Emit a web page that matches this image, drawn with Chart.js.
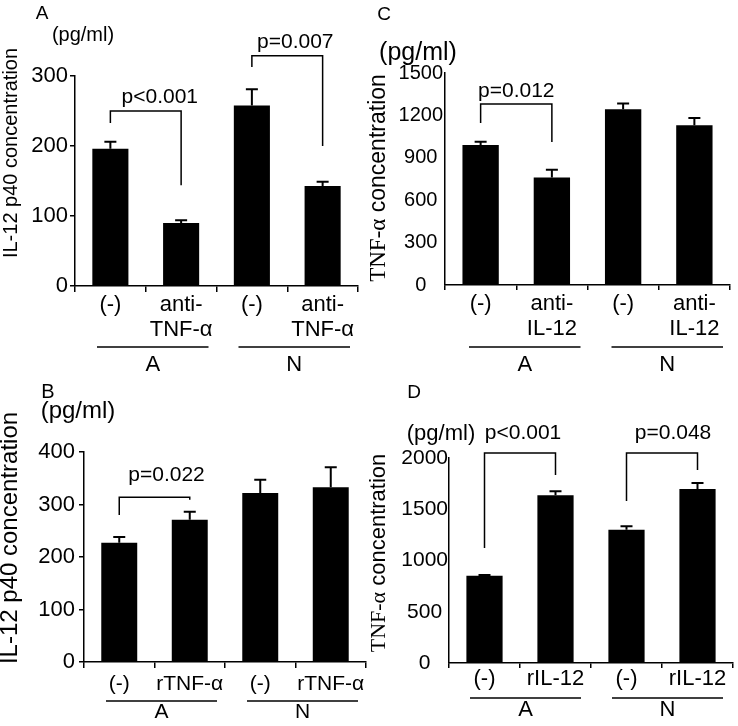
<!DOCTYPE html>
<html lang="en">
<head>
<meta charset="UTF-8">
<title>IL-12 p40 and TNF-α concentration</title>
<script src="https://cdn.jsdelivr.net/npm/chart.js"></script>
<style>
  body { margin: 0; background: #fff; }
  .wrap { position: relative; width: 738px; height: 726px; }
  canvas { position: absolute; left: 0; top: 0; }
</style>
</head>
<body>
<div class="wrap">
  <canvas id="chartA" width="738" height="726"></canvas>
  <canvas id="chartC" width="738" height="726"></canvas>
  <canvas id="chartB" width="738" height="726"></canvas>
  <canvas id="chartD" width="738" height="726"></canvas>
</div>
<script>
  // data (pg/ml)
  const groups = ['A', 'N'];

  const labelsA = [['(-)'], ['anti-', 'TNF-α'], ['(-)'], ['anti-', 'TNF-α']];
  const valuesA = [196, 90, 258, 143];
  const errorsA = [10, 4, 23, 6];
  const bracketsA = [
    { from: 0, to: 1, left: 233, right: 144, top: 250, text: 'p<0.001' },
    { from: 2, to: 3, left: 313, right: 200, top: 329, text: 'p=0.007' }
  ];

  const labelsC = [['(-)'], ['anti-', 'IL-12'], ['(-)'], ['anti-', 'IL-12']];
  const valuesC = [990, 760, 1244, 1131];
  const errorsC = [24, 55, 40, 50];
  const bracketsC = [
    { from: 0, to: 1, left: 1146, right: 1012, top: 1281, text: 'p=0.012' }
  ];

  const labelsB = ['(-)', 'rTNF-α', '(-)', 'rTNF-α'];
  const valuesB = [227, 271, 322, 333];
  const errorsB = [11, 15, 25, 38];
  const bracketsB = [
    { from: 0, to: 1, left: 280, right: 309, top: 314, text: 'p=0.022' }
  ];

  const labelsD = ['(-)', 'rIL-12', '(-)', 'rIL-12'];
  const valuesD = [852, 1636, 1300, 1698];
  const errorsD = [6, 39, 33, 58];
  const bracketsD = [
    { from: 0, to: 1, left: 1122, right: 1834, top: 2049, text: 'p<0.001' },
    { from: 2, to: 3, left: 1580, right: 1883, top: 2049, text: 'p=0.048' }
  ];

  const SANS = "'Liberation Sans', Arial, Helvetica, sans-serif";
  const SERIF = "'Liberation Serif', 'Times New Roman', serif";
  const IL12 = [['IL-12 p40 concentration', SANS]];
  const TNF = [['TNF-α', SERIF], [' concentration', SANS]];

  // extra drawing: error bars, brackets, group lines, titles
  function makeDecor(errors, brackets, s) {
    return {
      id: 'decor',
      afterDraw(chart) {
        const ctx = chart.ctx;
        const x = chart.scales.x, y = chart.scales.y;
        const vals = chart.data.datasets[0].data;
        ctx.save();
        ctx.fillStyle = '#000';
        ctx.strokeStyle = '#000';

        ctx.lineWidth = 2;
        chart.getDatasetMeta(0).data.forEach((bar, i) => {
          const top = y.getPixelForValue(vals[i] + errors[i]);
          ctx.beginPath();
          ctx.moveTo(bar.x, bar.y);
          ctx.lineTo(bar.x, top);
          ctx.moveTo(bar.x - 6, top);
          ctx.lineTo(bar.x + 6, top);
          ctx.stroke();
        });

        ctx.lineWidth = 1.5;
        ctx.font = s.pSize + 'px ' + SANS;
        ctx.textAlign = 'center';
        ctx.textBaseline = 'alphabetic';
        brackets.forEach((b, k) => {
          const x1 = x.getPixelForValue(b.from), x2 = x.getPixelForValue(b.to);
          const yt = y.getPixelForValue(b.top);
          ctx.beginPath();
          ctx.moveTo(x1, y.getPixelForValue(b.left));
          ctx.lineTo(x1, yt);
          ctx.lineTo(x2, yt);
          ctx.lineTo(x2, y.getPixelForValue(b.right));
          ctx.stroke();
          ctx.fillText(b.text, (x1 + x2) / 2 + s.pDx[k], yt - s.pGap);
        });

        const cw = x.getPixelForValue(1) - x.getPixelForValue(0);
        ctx.font = s.xFont + 'px ' + SANS;
        ctx.textBaseline = 'middle';
        groups.forEach((g, k) => {
          const a = x.getPixelForValue(2 * k) - cw / 2 + s.groupInset[0];
          const b = x.getPixelForValue(2 * k + 1) + cw / 2 - s.groupInset[1];
          ctx.beginPath();
          ctx.moveTo(a, s.groupY);
          ctx.lineTo(b, s.groupY);
          ctx.stroke();
          ctx.fillText(g, (a + b) / 2, s.groupTextY);
        });

        ctx.font = s.letter[3] + 'px ' + SANS;
        ctx.fillText(s.letter[0], s.letter[1], s.letter[2]);

        ctx.textBaseline = 'alphabetic';
        ctx.font = s.unit[2] + 'px ' + SANS;
        ctx.fillText('(pg/ml)', s.unit[0], s.unit[1]);

        // rotated axis title, may mix fonts
        ctx.translate(s.titleX, s.titleY);
        ctx.rotate(-Math.PI / 2);
        ctx.textAlign = 'left';
        ctx.textBaseline = 'middle';
        let total = 0;
        s.title.forEach(seg => {
          ctx.font = s.titleSize + 'px ' + seg[1];
          total += ctx.measureText(seg[0]).width;
        });
        let pos = -total / 2;
        s.title.forEach(seg => {
          ctx.font = s.titleSize + 'px ' + seg[1];
          ctx.fillText(seg[0], pos, 0);
          pos += ctx.measureText(seg[0]).width;
        });
        ctx.restore();
      }
    };
  }

  function makePanel(id, labels, values, errors, brackets, s) {
    const [left, right, top, bottom] = s.area;
    return new Chart(document.getElementById(id), {
      type: 'bar',
      data: {
        labels: labels,
        datasets: [{
          data: values,
          backgroundColor: '#000',
          borderWidth: 0,
          barPercentage: 0.51,
          categoryPercentage: 1
        }]
      },
      options: {
        responsive: false,
        animation: false,
        events: [],
        layout: { padding: { left: left - 60, right: 738 - right, top: top, bottom: 726 - bottom - 60 } },
        plugins: { legend: { display: false }, tooltip: { enabled: false } },
        scales: {
          x: {
            border: { color: '#000', width: 1.5 },
            grid: { drawOnChartArea: false, tickLength: s.xTick, color: '#000', lineWidth: 1.5 },
            ticks: {
              color: '#000', autoSkip: false, maxRotation: 0, padding: s.xPad,
              font: { family: SANS, size: s.xFont, lineHeight: 1.15 }
            },
            afterFit: sc => { sc.height = 60; }
          },
          y: {
            min: 0,
            max: s.yMax,
            border: { color: '#000', width: 1.5 },
            grid: { drawOnChartArea: false, drawTicks: s.yTick > 0, tickLength: s.yTick, color: '#000', lineWidth: 1.5 },
            ticks: {
              stepSize: s.yStep, color: '#000', padding: s.yPad, crossAlign: s.yAlign,
              font: { family: SANS, size: s.yFont },
              callback: v => String(v)
            },
            afterFit: sc => { sc.width = 60; }
          }
        }
      },
      plugins: [makeDecor(errors, brackets, s)]
    });
  }

  makePanel('chartA', labelsA, valuesA, errorsA, bracketsA, {
    area: [75, 358, 76, 286], yMax: 300, yStep: 100, yFont: 22, yTick: 5, yPad: 2, yAlign: 'near',
    xFont: 22, xTick: 6, xPad: 0,
    letter: ['A', 42, 14, 19], unit: [83, 41, 20],
    title: IL12, titleX: 11, titleY: 153, titleSize: 20,
    groupY: 347, groupTextY: 365, groupInset: [22, 8],
    pSize: 21, pGap: 8, pDx: [14, 8]
  });

  makePanel('chartC', labelsC, valuesC, errorsC, bracketsC, {
    area: [445, 730, 73, 285], yMax: 1500, yStep: 300, yFont: 20, yTick: 0, yPad: 2, yAlign: 'center',
    xFont: 22, xTick: 5, xPad: 1,
    letter: ['C', 384, 15, 19], unit: [418, 60, 25],
    title: TNF, titleX: 379, titleY: 178, titleSize: 23,
    groupY: 347, groupTextY: 365, groupInset: [24, 7],
    pSize: 21, pGap: 7, pDx: [0]
  });

  makePanel('chartB', labelsB, valuesB, errorsB, bracketsB, {
    area: [84, 366, 452, 662], yMax: 400, yStep: 100, yFont: 22, yTick: 5, yPad: 4, yAlign: 'near',
    xFont: 21, xTick: 6, xPad: 4,
    letter: ['B', 48, 392, 20], unit: [78, 418, 24],
    title: IL12, titleX: 10, titleY: 538, titleSize: 24,
    groupY: 701, groupTextY: 712, groupInset: [22, 8],
    pSize: 21, pGap: 16, pDx: [12]
  });

  makePanel('chartD', labelsD, valuesD, errorsD, bracketsD, {
    area: [449, 733, 458, 663], yMax: 2000, yStep: 500, yFont: 21, yTick: 0, yPad: 1, yAlign: 'center',
    xFont: 22, xTick: 5, xPad: -2,
    letter: ['D', 414, 393, 19], unit: [441, 440, 22],
    title: TNF, titleX: 379, titleY: 553, titleSize: 22,
    groupY: 698, groupTextY: 710, groupInset: [21, 10],
    pSize: 21, pGap: 14, pDx: [3, 11]
  });
</script>
</body>
</html>
